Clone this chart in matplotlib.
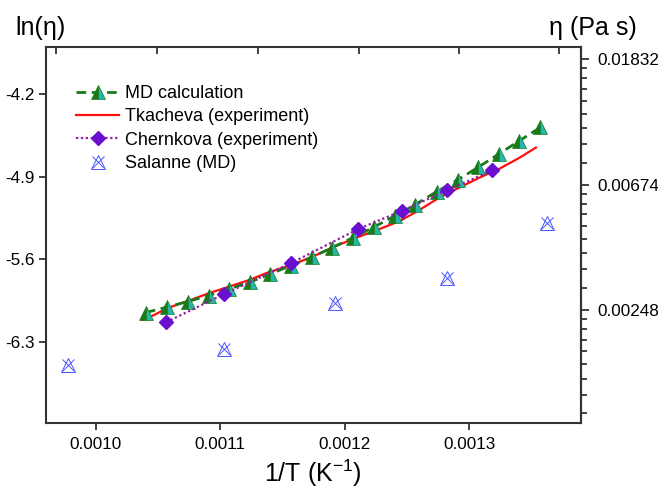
import numpy as np
import matplotlib
matplotlib.use("Agg")
import matplotlib.pyplot as plt
from matplotlib.legend_handler import HandlerTuple

plt.rcParams['font.family'] = ['Liberation Sans', 'DejaVu Sans']
plt.rcParams['mathtext.fontset'] = 'custom'
plt.rcParams['mathtext.rm'] = 'Liberation Sans'
plt.rcParams['mathtext.it'] = 'Liberation Sans'

# ---------------- data ----------------
md_x = [0.0010404, 0.0010573, 0.0010739, 0.0010908, 0.0011073, 0.0011239, 0.0011405,
        0.0011570, 0.0011737, 0.0011902, 0.0012068, 0.0012234, 0.0012402, 0.0012568,
        0.0012739, 0.0012908, 0.0013073, 0.0013239, 0.0013402, 0.0013574]
md_y = [-6.054, -6.008, -5.961, -5.910, -5.853, -5.796, -5.725, -5.655, -5.584, -5.502,
        -5.417, -5.329, -5.233, -5.137, -5.027, -4.927, -4.820, -4.707, -4.596, -4.480]

tk_x = [0.0010380, 0.0010480, 0.0010573, 0.0010733, 0.0010918, 0.0011078, 0.0011239,
        0.0011376, 0.0011537, 0.0011721, 0.0011922, 0.0012099, 0.0012284, 0.0012444,
        0.0012605, 0.0012765, 0.0012926, 0.0013087, 0.0013247, 0.0013408, 0.0013537]
tk_y = [-6.116, -6.070, -6.018, -5.959, -5.887, -5.832, -5.776, -5.717, -5.662, -5.590,
        -5.492, -5.416, -5.343, -5.276, -5.180, -5.075, -4.990, -4.906, -4.830, -4.737,
        -4.652]

ch_x = [0.0010567, 0.0011031, 0.0011568, 0.0012111, 0.0012465, 0.0012826, 0.0013187]
ch_y = [-6.136, -5.898, -5.635, -5.344, -5.188, -5.015, -4.845]

sa_x = [0.0009778, 0.0011031, 0.0011925, 0.0012820, 0.0013626]
sa_y = [-6.499, -6.365, -5.969, -5.757, -5.295]

x_ticks = [0.0010, 0.0011, 0.0012, 0.0013]
x_tick_labels = ['0.0010', '0.0011', '0.0012', '0.0013']
top_ticks = [0.000968, 0.001049, 0.0011306, 0.0012115, 0.001292, 0.0013724]
y_ticks = [-4.2, -4.9, -5.6, -6.3]
y_tick_labels = ['-4.2', '-4.9', '-5.6', '-6.3']
eta_major_ln = [-4.0, -5.0, -6.0]
eta_major_labels = ['0.01832', '0.00674', '0.00248']

# ---------------- figure ----------------
fig = plt.figure(figsize=(6.58, 4.90), dpi=100)
L, R, T, B = 45.7, 580.7, 47.3, 422.7
W, H = 658.0, 490.0
ax = fig.add_axes([L / W, 1 - B / H, (R - L) / W, (B - T) / H])

spine_c = '#333333'
for s in ax.spines.values():
    s.set_color(spine_c)
    s.set_linewidth(1.5)

green = '#1a7a1a'
teal = '#22b8b0'
purple_m = '#6a0fd0'
purple_l = '#9a1aa8'
blue = '#4a55ff'

md_line, = ax.plot(md_x, md_y, color=green, lw=2.0, linestyle=(0, (3.5, 2.0)),
                   marker='^', ms=9.5, mfc=green, mfcalt=teal, fillstyle='left',
                   mec=green, mew=0.5, zorder=4)
tk_line, = ax.plot(tk_x, tk_y, color='#ff1010', lw=1.6, zorder=3)
ch_line, = ax.plot(ch_x, ch_y, color=purple_l, lw=1.6, linestyle=(0, (1, 1.2)),
                   marker='D', ms=7.5, mfc=purple_m, mec=purple_m, zorder=5)
sa1, = ax.plot(sa_x, sa_y, linestyle='none', marker='^', ms=10, mfc='none',
               mec=blue, mew=0.7, zorder=5)
sa2, = ax.plot(sa_x, sa_y, linestyle='none', marker='x', ms=9, mec=blue,
               mew=0.7, zorder=5)

ax.set_xticks(x_ticks)
ax.set_xticklabels(x_tick_labels)
ax.set_yticks(y_ticks)
ax.set_yticklabels(y_tick_labels)
ax.set_xlim(0.000960, 0.0013897)
ax.set_ylim(-6.99, -3.80)
ax.tick_params(axis='both', direction='out', length=5, width=1.3, color=spine_c,
               labelsize=12.3, pad=3)
ax.tick_params(axis='x', pad=5)

# top axis with inward unlabeled ticks
axt = ax.twiny()
axt.set_xticks(top_ticks)
axt.set_xticklabels([])
axt.set_xlim(ax.get_xlim())
axt.tick_params(axis='x', direction='in', length=5, width=1.3, color=spine_c)
for s in axt.spines.values():
    s.set_visible(False)

# right axis: eta on ln scale
axr = ax.twinx()
minor = []
for lo in [-7, -6, -5, -4]:
    a, b = np.exp(lo), np.exp(lo + 1)
    for k in range(1, 9):
        minor.append(np.log(a + k * (b - a) / 9))
axr.set_yticks(eta_major_ln)
axr.set_yticklabels(eta_major_labels)
axr.set_yticks(minor, minor=True)
axr.set_ylim(-6.899, -3.904)
axr.tick_params(axis='y', which='major', direction='out', length=6, width=1.3,
                color=spine_c, labelsize=12.3, pad=6)
axr.tick_params(axis='y', which='minor', direction='out', length=4.5, width=1.3,
                color=spine_c)
for s in axr.spines.values():
    s.set_visible(False)
axr.spines['right'].set_visible(True)
axr.spines['right'].set_color(spine_c)
axr.spines['right'].set_linewidth(1.5)

# labels
fig.text(15 / W, 1 - 28 / H, 'ln(η)', fontsize=18, ha='left', va='center')
fig.text(637 / W, 1 - 28 / H, 'η (Pa s)', fontsize=18, ha='right', va='center')
fig.text(313 / W, 1 - 473 / H, '1/T (K$^{-1}$)', fontsize=18, ha='center', va='center')

leg = ax.legend([md_line, tk_line, ch_line, (sa1, sa2)],
                ['MD calculation', 'Tkacheva (experiment)', 'Chernkova (experiment)',
                 'Salanne (MD)'],
                handler_map={tuple: HandlerTuple(ndivide=1, pad=0)},
                loc='upper left', bbox_to_anchor=((76 - L) / (R - L), (B - 85) / (B - T)),
                frameon=False, fontsize=13, borderpad=0, borderaxespad=0,
                handlelength=2.4, handletextpad=0.3, labelspacing=0.35)

fig.savefig('out.png', dpi=100)
